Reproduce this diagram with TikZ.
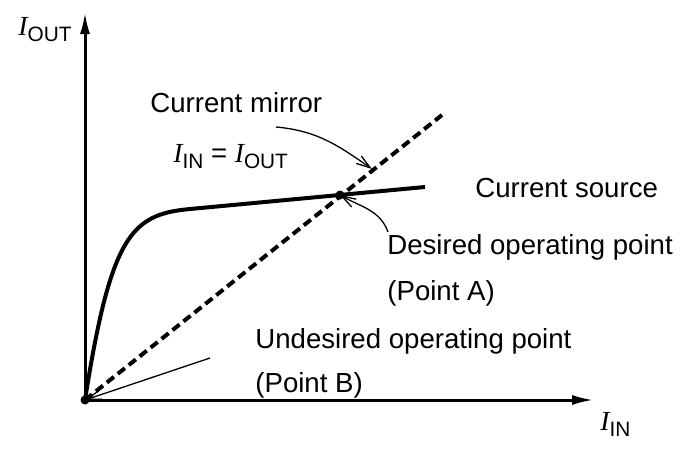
\documentclass[tikz,border=0pt]{standalone}
\usepackage{fontspec}
\setmainfont{Liberation Sans}
\newfontfamily\ifam{Liberation Serif}
\usetikzlibrary{arrows.meta}
\newcommand{\cur}[1]{{\ifam\itshape I}\raisebox{-3pt}{\fontsize{10.4}{12}\selectfont #1}}
\tikzset{
	lbl/.style={anchor=base west,inner sep=0pt},
	axis/.style={line width=1.5pt,-{Latex[length=11pt,width=5pt]}},
	ann/.style={line width=0.65pt,-{Straight Barb[length=7pt,width=4.5pt]}}
}

\begin{document}
\begin{tikzpicture}[x=0.5pt,y=0.5pt,font=\fontsize{13.8}{16}\selectfont]
			\useasboundingbox (0,0) rectangle (680,452);
			\coordinate (o) at (85,52);
			\coordinate (yt) at (85,440);
			\coordinate (xt) at (594,52);
			\coordinate (kn) at (190,243);
			\coordinate (se) at (425,265);
			\coordinate (pa) at (340,257);
			\coordinate (me) at (442,337);
			\coordinate (cm) at (276,325);
			\coordinate (mt) at (372,283);
			\coordinate (da) at (388,220);
			\coordinate (ub) at (210,94);
			\node[lbl] (iout) at (18,417) {\cur{OUT}};
			\node[lbl] (iin) at (600,22) {\cur{IN}};
			\node[lbl] (mir) at (150,340) {Current mirror};
			\node[lbl] (eq) at (173,290) {\cur{IN} = \cur{OUT}};
			\node[lbl] (src) at (475,255) {Current source};
			\node[lbl] (des) at (387,198) {Desired operating point};
			\node[lbl] (pta) at (387,152) {(Point A)};
			\node[lbl] (und) at (255,104) {Undesired operating point};
			\node[lbl] (ptb) at (255,60) {(Point B)};
			\draw[axis](o)--(yt);
			\draw[axis](o)--(xt);
			\draw[line width=2pt,dash pattern=on 4.5pt off 2.5pt](o)--(me);
			\draw[line width=2pt](o) .. controls (111,218) and (132,237.6) .. (kn)--(se);
			\fill(pa) circle[radius=4.5];
			\fill(o) circle[radius=4.5];
			\draw[ann](cm) to[out=-5,in=145] (mt);
			\draw[ann](da) to[out=110,in=-30] (pa);
			\draw[ann](ub)--(o);
		\end{tikzpicture}
\end{document}
